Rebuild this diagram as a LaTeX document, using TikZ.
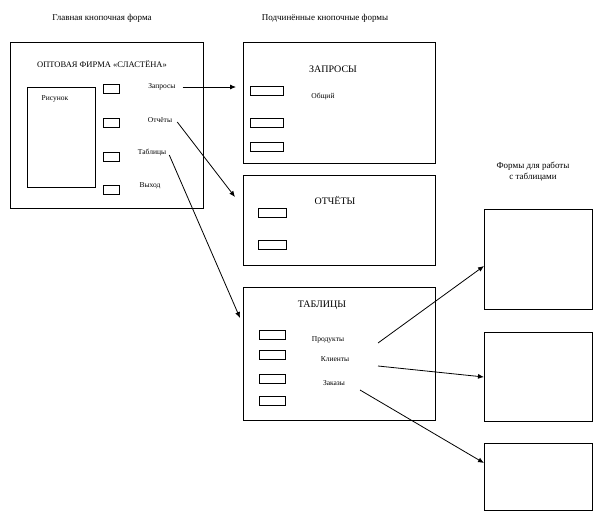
\documentclass[tikz,border=0pt]{standalone}
\usepackage{fontspec}
\setmainfont{Liberation Serif}
\usetikzlibrary{arrows.meta,positioning}
\tikzset{
  frm/.style={draw,thick,inner sep=0pt,anchor=north west},
  btn/.style={draw,thick,minimum width=#1,minimum height=9pt,inner sep=0pt,anchor=north west},
  btn/.default=16pt,
  lbl/.style={font=\fontsize{7.5}{8}\selectfont,inner sep=1pt},
  ttl/.style={font=\fontsize{10}{11}\selectfont},
  hdr/.style={font=\fontsize{9}{11}\selectfont,align=center},
  arr/.style={thick,-{Latex[length=6pt,width=5pt]}}
}
\begin{document}
\begin{tikzpicture}[x=1pt,y=-1pt]
  \useasboundingbox (0,0) rectangle (607,530);
  % headers
  \node[hdr] (hmain) at (102,18) {Главная кнопочная форма};
  \node[hdr] (hsub) at (325,18) {Подчинённые кнопочные формы};
  \node[hdr] (htab) at (533,172) {Формы для работы\\с таблицами};
  % main form
  \node[frm,minimum width=193pt,minimum height=166pt] (main) at (10,42) {};
  \node[lbl,font=\fontsize{8.5}{9}\selectfont] (mtitle) at (102,64) {ОПТОВАЯ ФИРМА «СЛАСТЁНА»};
  \node[frm,minimum width=68pt,minimum height=100pt] (pic) at (27,87) {};
  \node[lbl] at (55,99) {Рисунок};
  \node[btn] (b1) at (103,84) {};
  \node[btn] (b2) at (103,118) {};
  \node[btn] (b3) at (103,152) {};
  \node[btn] (b4) at (103,185) {};
  \node[lbl] (lq) at (162,87) {Запросы};
  \node[lbl] (lo) at (160,120) {Отчёты};
  \node[lbl] (lt) at (152,153) {Таблицы};
  \node[lbl] (lx) at (150,186) {Выход};
  % queries form
  \node[frm,minimum width=192pt,minimum height=121pt] (zap) at (243,42) {};
  \node[ttl] at (333,69) {ЗАПРОСЫ};
  \node[btn=33pt] at (250,86) {};
  \node[btn=33pt] at (250,118) {};
  \node[btn=33pt] at (250,142) {};
  \node[lbl] at (323,97) {Общий};
  \coordinate (zin) at (236,87);
  % reports form
  \node[frm,minimum width=192pt,minimum height=90pt] (otch) at (243,175) {};
  \node[ttl] at (335,200) {ОТЧЁТЫ};
  \node[btn=28pt] at (258,208) {};
  \node[btn=28pt] at (258,240) {};
  \coordinate (oin) at (235,197);
  % tables form
  \node[frm,minimum width=192pt,minimum height=133pt] (tabl) at (243,287) {};
  \node[ttl] at (322,305) {ТАБЛИЦЫ};
  \node[btn=26pt] at (259,330) {};
  \node[btn=26pt] at (259,350) {};
  \node[btn=26pt] at (259,374) {};
  \node[btn=26pt] at (259,396) {};
  \node[lbl] (lp) at (328,340) {Продукты};
  \node[lbl] (lk) at (335,359) {Клиенты};
  \node[lbl] (lz) at (334,383) {Заказы};
  \coordinate (tin) at (240,318);
  % table forms
  \node[frm,minimum width=108pt,minimum height=100pt] (f1) at (484,209) {};
  \node[frm,minimum width=108pt,minimum height=89pt] (f2) at (484,332) {};
  \node[frm,minimum width=108pt,minimum height=67pt] (f3) at (484,443) {};
  % arrows
  \draw[arr] (lq.east) ++(6,0) -- (zin);
  \draw[arr] (lo.east) ++(4,2) -- (oin);
  \draw[arr] (lt.east) ++(2,2) -- (tin);
  \draw[arr] (378,343) -- (f1.west |- 0,266);
  \draw[arr] (378,366) -- (f2.west |- 0,377);
  \draw[arr] (360,390) -- (f3.west |- 0,463);
\end{tikzpicture}
\end{document}
